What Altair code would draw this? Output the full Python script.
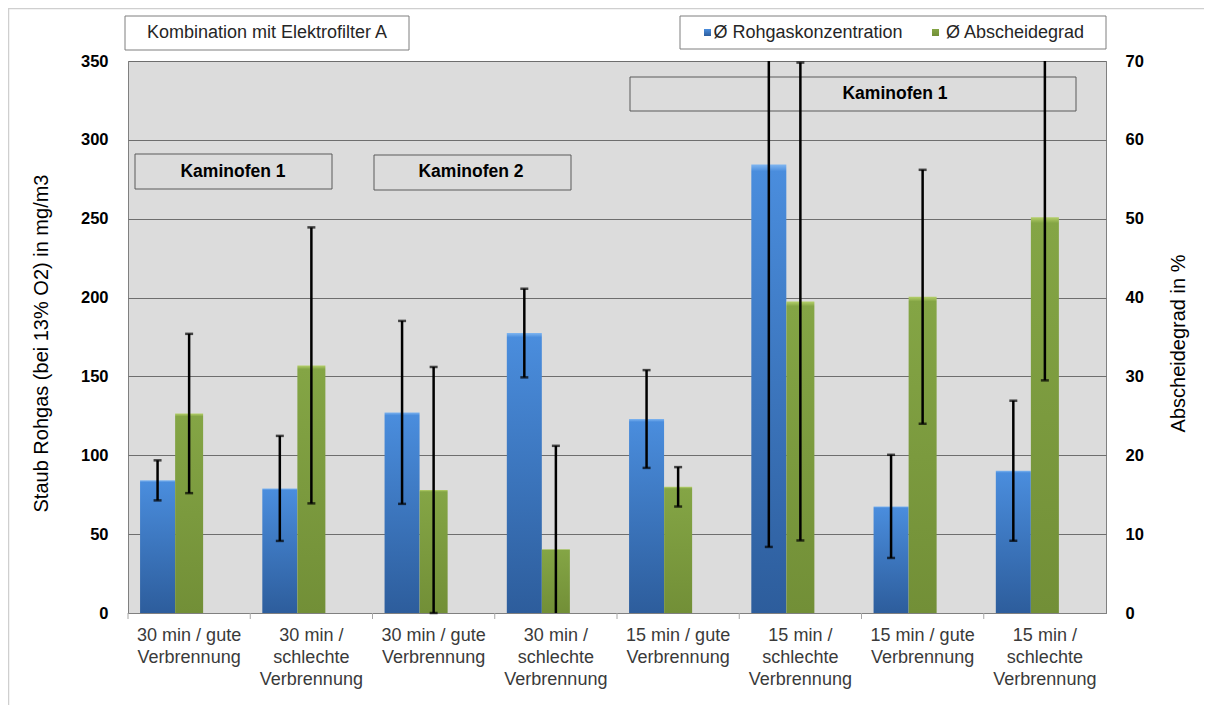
import json
import altair as alt
import pandas as pd

# ---------------- data ----------------
cat_ids = ["1", "2", "3", "4", "5", "6", "7", "8"]
x_labels = [
    "30 min / gute|Verbrennung",
    "30 min /|schlechte|Verbrennung",
    "30 min / gute|Verbrennung",
    "30 min /|schlechte|Verbrennung",
    "15 min / gute|Verbrennung",
    "15 min /|schlechte|Verbrennung",
    "15 min / gute|Verbrennung",
    "15 min /|schlechte|Verbrennung",
]
rohgas = [84.1, 79.0, 127.2, 177.5, 123.0, 284.3, 67.6, 90.2]
rohgas_err = [12.7, 33.3, 58.0, 28.1, 31.0, 242.4, 32.7, 44.4]
abscheide = [25.3, 31.4, 15.6, 8.1, 16.0, 39.5, 40.1, 50.2]
abscheide_err = [10.1, 17.5, 15.6, 13.1, 2.5, 30.3, 16.1, 20.7]
series_names = ["Ø Rohgaskonzentration", "Ø Abscheidegrad"]
left_ticks = [0, 50, 100, 150, 200, 250, 300, 350]
right_ticks = [0, 10, 20, 30, 40, 50, 60, 70]
left_title = "Staub Rohgas (bei 13% O2) in mg/m3"
right_title = "Abscheidegrad in %"
box_title = "Kombination mit Elektrofilter A"
group_labels = ["Kaminofen 1", "Kaminofen 2", "Kaminofen 1"]

L_MAX, R_MAX = left_ticks[-1], right_ticks[-1]
FONT = "Liberation Sans"


def frame(values, errs, key, vmax):
    d = pd.DataFrame({"cat": cat_ids, "series": key, "value": values, "err": errs})
    d["lo"] = d["value"] - d["err"]
    d["hi"] = d["value"] + d["err"]
    caps = []
    for _, r in d.iterrows():
        if r["lo"] >= -0.05:
            caps.append({"cat": r["cat"], "series": key, "cap": max(r["lo"], 0)})
        if r["hi"] <= vmax + 0.05:
            caps.append({"cat": r["cat"], "series": key, "cap": r["hi"]})
    return d, pd.DataFrame(caps)


df_r, caps_r = frame(rohgas, rohgas_err, "R", L_MAX)
df_a, caps_a = frame(abscheide, abscheide_err, "A", R_MAX)

label_lines = [lbl.split("|") for lbl in x_labels]
label_expr = f"{json.dumps(label_lines)}[toNumber(datum.value) - 1]"

x_scale = alt.Scale(domain=cat_ids, paddingInner=0, paddingOuter=0)
x_axis = alt.Axis(
    labelExpr=label_expr,
    labelFont=FONT,
    labelFontSize=18,
    labelColor="#3a3a3a",
    labelLineHeight=22,
    labelAngle=0,
    labelPadding=13,
    labelLimit=400,
    labelOverlap=False,
    ticks=False,
    domainColor="#808080",
)
x_enc = alt.X("cat:N", scale=x_scale, title=None, axis=x_axis)
off_enc = alt.XOffset(
    "series:N",
    scale=alt.Scale(domain=["R", "A", "_"], paddingInner=0, paddingOuter=0.437),
)

blue_grad = {
    "gradient": "linear", "x1": 0, "x2": 0, "y1": 0, "y2": 1,
    "stops": [
        {"offset": 0, "color": "#7fb5f0"},
        {"offset": 0.015, "color": "#4a8ddd"},
        {"offset": 1, "color": "#2d5d9c"},
    ],
}
green_grad = {
    "gradient": "linear", "x1": 0, "x2": 0, "y1": 0, "y2": 1,
    "stops": [
        {"offset": 0, "color": "#b5d06a"},
        {"offset": 0.015, "color": "#84a545"},
        {"offset": 1, "color": "#728f37"},
    ],
}

left_axis = alt.Axis(
    values=left_ticks, title=left_title, grid=True, gridColor="#6e6e6e", gridWidth=1,
    ticks=False, domain=False, labelFont=FONT, labelFontWeight="bold", labelFontSize=16.5,
    labelColor="black", labelPadding=20, titleFont=FONT, titleFontSize=20,
    titleFontWeight="normal", titleColor="black", titleX=-87, titleY=282,
    titleAngle=270, titleBaseline="middle", titleAlign="center",
)
right_axis = alt.Axis(
    values=right_ticks, title=right_title, grid=False, orient="right",
    ticks=False, domain=False, labelFont=FONT, labelFontWeight="bold", labelFontSize=16.5,
    labelColor="black", labelPadding=19, titleFont=FONT, titleFontSize=20,
    titleFontWeight="normal", titleColor="black", titleX=72, titleY=282,
    titleAngle=270, titleBaseline="middle", titleAlign="center",
)
l_scale = alt.Scale(domain=[0, L_MAX], clamp=True, nice=False)
r_scale = alt.Scale(domain=[0, R_MAX], clamp=True, nice=False)

# category boundary ticks under the x axis
cat_ticks = alt.Chart(pd.DataFrame({"cat": cat_ids})).mark_rule(
    color="#a6a6a6", strokeWidth=1
).encode(
    x=alt.X("cat:N", scale=x_scale, bandPosition=0, title=None, axis=x_axis),
    y=alt.value(552), y2=alt.value(558),
)

blue_bars = alt.Chart(df_r).mark_bar(color=blue_grad, width=35).encode(
    x=x_enc, xOffset=off_enc, y=alt.Y("value:Q", scale=l_scale, axis=left_axis)
)
blue_err = alt.Chart(df_r).mark_rule(color="black", strokeWidth=2.5).encode(
    x=x_enc, xOffset=off_enc,
    y=alt.Y("lo:Q", scale=l_scale, axis=left_axis), y2="hi:Q",
)
blue_caps = alt.Chart(caps_r).mark_tick(
    color="black", thickness=2.5, size=8, orient="horizontal"
).encode(x=x_enc, xOffset=off_enc, y=alt.Y("cap:Q", scale=l_scale, axis=left_axis))

green_bars = alt.Chart(df_a).mark_bar(color=green_grad, width=28).encode(
    x=x_enc, xOffset=off_enc, y=alt.Y("value:Q", scale=r_scale, axis=right_axis)
)
green_err = alt.Chart(df_a).mark_rule(color="black", strokeWidth=2.5).encode(
    x=x_enc, xOffset=off_enc,
    y=alt.Y("lo:Q", scale=r_scale, axis=right_axis), y2="hi:Q",
)
green_caps = alt.Chart(caps_a).mark_tick(
    color="black", thickness=2.5, size=8, orient="horizontal"
).encode(x=x_enc, xOffset=off_enc, y=alt.Y("cap:Q", scale=r_scale, axis=right_axis))

one = alt.Data(values=[{}])


def box(x1, x2, y1, y2, fill, stroke):
    return alt.Chart(one).mark_rect(fill=fill, stroke=stroke, strokeWidth=1).encode(
        x=alt.value(x1), x2=alt.value(x2), y=alt.value(y1), y2=alt.value(y2)
    )


def label(txt, x, y, size, weight="normal", align="center", color="#262626"):
    return alt.Chart(one).mark_text(
        text=txt, font=FONT, fontSize=size, fontWeight=weight, align=align,
        baseline="middle", color=color,
    ).encode(x=alt.value(x), y=alt.value(y))


def sq(x1, y1, grad):
    return alt.Chart(one).mark_rect(color=grad).encode(
        x=alt.value(x1), x2=alt.value(x1 + 7), y=alt.value(y1), y2=alt.value(y1 + 7)
    )


deco = [
    alt.Chart(one).mark_rule(color="#cfcfcf", strokeWidth=1.5).encode(
        x=alt.value(-119.5), x2=alt.value(-119.5), y=alt.value(-53), y2=alt.value(644)
    ),
    alt.Chart(one).mark_rule(color="#cfcfcf", strokeWidth=1.5).encode(
        x=alt.value(-120), x2=alt.value(1076), y=alt.value(-52.5), y2=alt.value(-52.5)
    ),
    box(-3, 281, -45, -11, "white", "#7f7f7f"),
    label(box_title, 139, -28, 18),
    box(552, 978, -45, -12, "white", "#7f7f7f"),
    sq(576, -32, blue_grad),
    label(series_names[0], 585.5, -28.5, 18, align="left"),
    sq(804, -32, green_grad),
    label(series_names[1], 818, -28.5, 18, align="left"),
    box(7, 204, 93, 128, "#dcdcdc", "#5a5a5a"),
    label(group_labels[0], 105, 110.5, 17.5, weight="bold", color="black"),
    box(246, 443, 94, 129, "#dcdcdc", "#5a5a5a"),
    label(group_labels[1], 343, 111, 17.5, weight="bold", color="black"),
    box(502, 948, 16, 50, "#dcdcdc", "#5a5a5a"),
    label(group_labels[2], 767, 33, 17.5, weight="bold", color="black"),
]

left_group = alt.layer(blue_bars, blue_err, blue_caps, cat_ticks)
right_group = alt.layer(green_bars, green_err, green_caps)

chart = (
    alt.layer(*deco, left_group, right_group)
    .resolve_scale(y="independent")
    .properties(
        width=978,
        height=552,
        autosize=alt.AutoSizeParams(type="none"),
        padding={"left": 120, "top": 53, "right": 98, "bottom": 92},
        background="white",
    )
    .configure_view(fill="#dcdcdc", stroke="#808080", strokeWidth=1)
)

chart.save("out.html", embed_options={"renderer": "svg", "actions": False})
